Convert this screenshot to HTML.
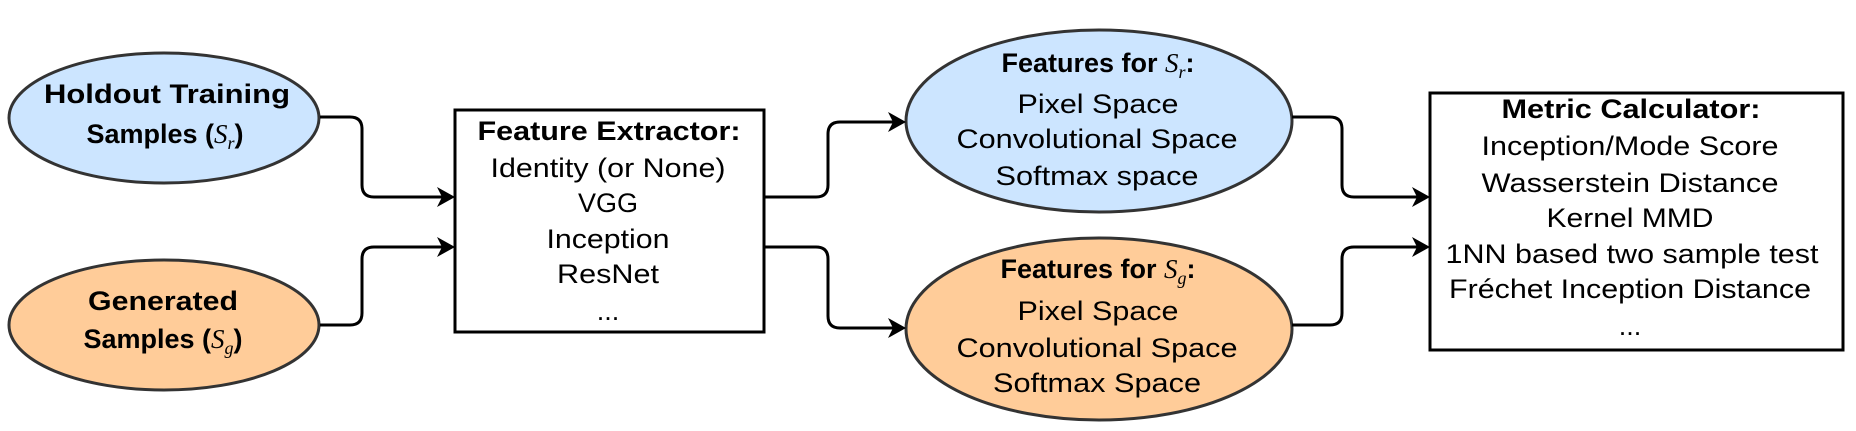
<!DOCTYPE html>
<html><head><meta charset="utf-8"><style>html,body{margin:0;padding:0;background:#fff}svg{display:block}</style></head>
<body>
<svg width="1856" height="431" viewBox="0 0 1856 431" xmlns="http://www.w3.org/2000/svg" font-family="Liberation Sans, Arial, sans-serif" font-size="27">
<g stroke="#333" stroke-width="3">
<ellipse cx="164" cy="118" rx="155" ry="65" fill="#cce5ff"/>
<ellipse cx="164" cy="325" rx="155" ry="65" fill="#ffcc99"/>
<ellipse cx="1099" cy="121" rx="193" ry="91" fill="#cce5ff"/>
<ellipse cx="1099" cy="329" rx="193" ry="91" fill="#ffcc99"/>
</g>
<rect x="455" y="110" width="309" height="222" fill="#fff" stroke="#000" stroke-width="3"/>
<rect x="1430" y="93" width="413" height="257" fill="#fff" stroke="#000" stroke-width="3"/>
<g fill="none" stroke="#000" stroke-width="3">
<path d="M320,117 H350 Q362,117 362,129 V185 Q362,197 374,197 H442"/>
<path d="M320,325 H350 Q362,325 362,313 V259 Q362,247 374,247 H442"/>
<path d="M764,197 H816 Q828,197 828,185 V134 Q828,122 840,122 H893"/>
<path d="M764,247 H816 Q828,247 828,259 V316 Q828,328 840,328 H893"/>
<path d="M1292,117 H1330 Q1342,117 1342,129 V185 Q1342,197 1354,197 H1417"/>
<path d="M1292,325 H1330 Q1342,325 1342,313 V259 Q1342,247 1354,247 H1417"/>
</g>
<g fill="#000">
<polygon points="455,197 437,187 442,197 437,207"/>
<polygon points="455,247 437,237 442,247 437,257"/>
<polygon points="906,122 888,112 893,122 888,132"/>
<polygon points="906,328 888,318 893,328 888,338"/>
<polygon points="1430,197 1412,187 1417,197 1412,207"/>
<polygon points="1430,247 1412,237 1417,247 1412,257"/>
</g>
<g text-anchor="middle">
<text x="167" y="103" font-weight="bold" textLength="246" lengthAdjust="spacingAndGlyphs">Holdout Training</text>
<text x="165" y="143" font-weight="bold">Samples (<tspan font-family="Liberation Serif, serif" font-style="italic" font-weight="normal">S<tspan font-size="18" dy="6">r</tspan></tspan><tspan dy="-6">)</tspan></text>
<text x="163" y="310" font-weight="bold" textLength="150" lengthAdjust="spacingAndGlyphs">Generated</text>
<text x="163" y="348" font-weight="bold">Samples (<tspan font-family="Liberation Serif, serif" font-style="italic" font-weight="normal">S<tspan font-size="18" dy="6">g</tspan></tspan><tspan dy="-6">)</tspan></text>

<text x="609" y="140" font-weight="bold" textLength="263" lengthAdjust="spacingAndGlyphs">Feature Extractor:</text>
<text x="608" y="177" textLength="235" lengthAdjust="spacingAndGlyphs">Identity (or None)</text>
<text x="608" y="212">VGG</text>
<text x="608" y="248" textLength="123" lengthAdjust="spacingAndGlyphs">Inception</text>
<text x="608" y="283" textLength="102" lengthAdjust="spacingAndGlyphs">ResNet</text>
<text x="608" y="320">...</text>

<text x="1098" y="72" font-weight="bold">Features for <tspan font-family="Liberation Serif, serif" font-style="italic" font-weight="normal">S<tspan font-size="18" dy="6">r</tspan></tspan><tspan dy="-6">:</tspan></text>
<text x="1098" y="113" textLength="161" lengthAdjust="spacingAndGlyphs">Pixel Space</text>
<text x="1097" y="148" textLength="281" lengthAdjust="spacingAndGlyphs">Convolutional Space</text>
<text x="1097" y="185" textLength="203" lengthAdjust="spacingAndGlyphs">Softmax space</text>

<text x="1098" y="278" font-weight="bold">Features for <tspan font-family="Liberation Serif, serif" font-style="italic" font-weight="normal">S<tspan font-size="18" dy="6">g</tspan></tspan><tspan dy="-6">:</tspan></text>
<text x="1098" y="320" textLength="161" lengthAdjust="spacingAndGlyphs">Pixel Space</text>
<text x="1097" y="357" textLength="281" lengthAdjust="spacingAndGlyphs">Convolutional Space</text>
<text x="1097" y="392" textLength="208" lengthAdjust="spacingAndGlyphs">Softmax Space</text>

<text x="1631" y="118" font-weight="bold" textLength="259" lengthAdjust="spacingAndGlyphs">Metric Calculator:</text>
<text x="1630" y="155" textLength="297" lengthAdjust="spacingAndGlyphs">Inception/Mode Score</text>
<text x="1630" y="192" textLength="297" lengthAdjust="spacingAndGlyphs">Wasserstein Distance</text>
<text x="1630" y="227" textLength="167" lengthAdjust="spacingAndGlyphs">Kernel MMD</text>
<text x="1632" y="263" textLength="373" lengthAdjust="spacingAndGlyphs">1NN based two sample test</text>
<text x="1630" y="298" textLength="362" lengthAdjust="spacingAndGlyphs">Fréchet Inception Distance</text>
<text x="1630" y="335">...</text>
</g>
</svg>
</body></html>
